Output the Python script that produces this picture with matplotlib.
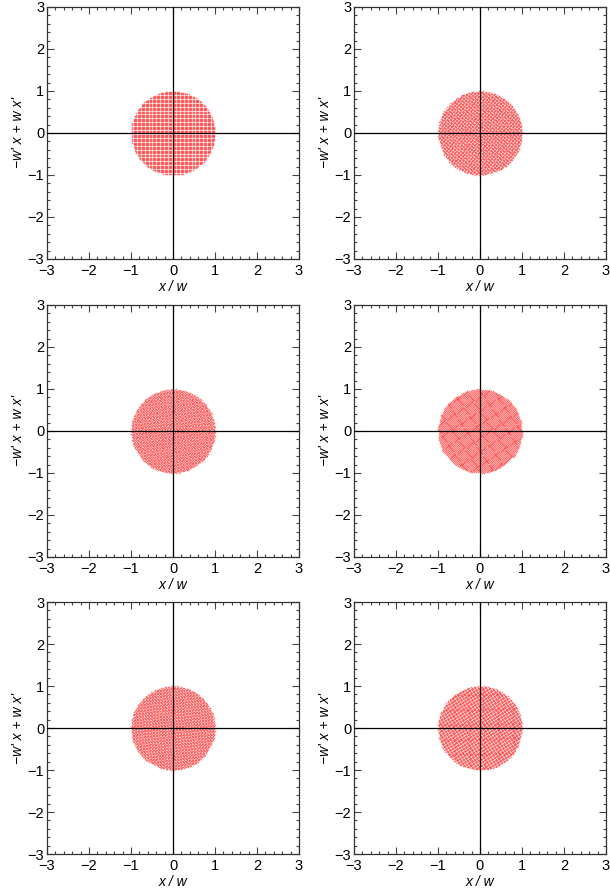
import numpy as np
import matplotlib
matplotlib.use("Agg")
import matplotlib.pyplot as plt
from matplotlib.ticker import MultipleLocator

plt.rcParams['font.family'] = ['Liberation Sans', 'DejaVu Sans']

# phase-space disk, one per panel
radius = 1.0
step = 0.032
angles = [0, 18, 33, 41, 62, 76]  # grid rotation (deg)
ticks = [-3, -2, -1, 0, 1, 2, 3]
xlab = "x / w"
ylab = "\u2212w' x + w x'"

# grid of starting points inside the disk
g = np.arange(-radius, radius + step / 2, step)
gx, gy = np.meshgrid(g, g)
inside = gx**2 + gy**2 <= radius**2
px0 = gx[inside]
py0 = gy[inside]

fig = plt.figure(figsize=(6.10, 8.93), dpi=100)
lefts = [47 / 610, 354 / 610]
bottoms = [1 - 259 / 893, 1 - 557 / 893, 1 - 854 / 893]
w = 252 / 610
h = 252 / 893

for k, a in enumerate(angles):
    r, c = divmod(k, 2)
    ax = fig.add_axes([lefts[c], bottoms[r], w, h])
    t = np.deg2rad(a)
    px = px0 * np.cos(t) - py0 * np.sin(t)
    py = px0 * np.sin(t) + py0 * np.cos(t)
    ax.plot(px, py, ls='none', marker='s', ms=1.0, mew=0, color='red', alpha=0.5)
    ax.axhline(0, color='black', lw=0.9, zorder=3)
    ax.axvline(0, color='black', lw=0.9, zorder=3)
    ax.set_xlim(-3, 3)
    ax.set_ylim(-3, 3)
    ax.set_xticks(ticks)
    ax.set_yticks(ticks)
    ax.set_xticklabels([str(v).replace('-', '\u2212') for v in ticks])
    ax.set_yticklabels([str(v).replace('-', '\u2212') for v in ticks])
    ax.xaxis.set_minor_locator(MultipleLocator(0.2))
    ax.yaxis.set_minor_locator(MultipleLocator(0.2))
    ax.tick_params(which='both', direction='in', top=True, right=True,
                   labelsize=10.5, width=0.8, color='#444444')
    ax.tick_params(axis='x', pad=3.5)
    ax.tick_params(axis='y', pad=2)
    ax.tick_params(which='major', length=5)
    ax.tick_params(which='minor', length=2.5)
    for s in ax.spines.values():
        s.set_linewidth(0.9)
        s.set_color('#333333')
    ax.set_xlabel(xlab, fontsize=10, style='italic', labelpad=1.5)
    ax.set_ylabel(ylab, fontsize=10, style='italic', labelpad=2)

fig.savefig("out.png", dpi=100)
